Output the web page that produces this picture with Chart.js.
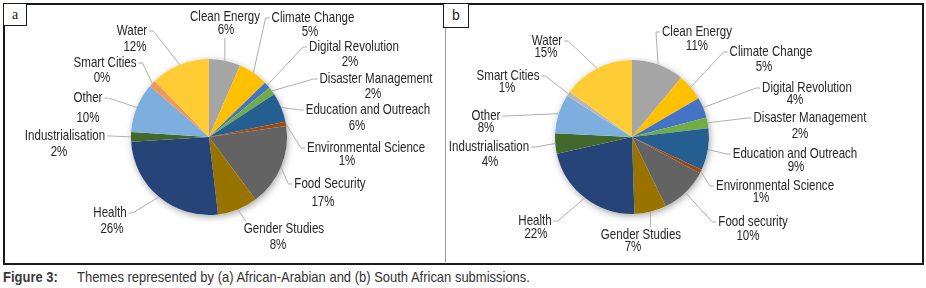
<!DOCTYPE html>
<html>
<head>
<meta charset="utf-8">
<script src="https://cdn.jsdelivr.net/npm/chart.js@4"></script>
<style>
  body { margin: 0; background: #fff; width: 926px; height: 288px; position: relative; overflow: hidden; }
  canvas { position: absolute; top: 0; }
  #chartA { left: 0; }
  #chartB { left: 445px; }
  .frame { position: absolute; left: 3px; top: 3px; width: 917px; height: 258px; border: 2px solid #1a1a1a; }
  .divider { position: absolute; left: 445px; top: 26px; width: 1px; height: 236px; background: #9a9a9a; }
  .tag { position: absolute; top: 3px; height: 21px; border: 1.5px solid #1a1a1a; background: #fff; text-align: center; line-height: 21px; font-size: 14px; color: #222; }
  #tagA { left: 3px; width: 22px; font-family: "Liberation Serif", serif; }
  #tagB { left: 443px; width: 24px; height: 23px; line-height: 23px; font-family: "Liberation Sans", sans-serif; }
  .caption { position: absolute; top: 268px; font-family: "Liberation Sans", sans-serif; font-size: 15px; color: #333;
             white-space: nowrap; transform: scaleX(0.865); transform-origin: 0 0; }
</style>
</head>
<body>
<canvas id="chartA" width="445" height="263"></canvas>
<canvas id="chartB" width="481" height="263"></canvas>
<div class="frame"></div>
<div class="divider"></div>
<div class="tag" id="tagA">a</div>
<div class="tag" id="tagB">b</div>
<div class="caption" style="left:3px;font-weight:bold;color:#3a3a3a;">Figure 3:</div>
<div class="caption" style="left:77px;">Themes represented by (a) African-Arabian and (b) South African submissions.</div>
<script>
// themes, in the order the slices run clockwise from 12 o'clock
const themesA = ['Clean Energy', 'Climate Change', 'Digital Revolution', 'Disaster Management',
  'Education and Outreach', 'Environmental Science', 'Food Security', 'Gender Studies',
  'Health', 'Industrialisation', 'Other', 'Smart Cities', 'Water'];
const themesB = ['Clean Energy', 'Climate Change', 'Digital Revolution', 'Disaster Management',
  'Education and Outreach', 'Environmental Science', 'Food security', 'Gender Studies',
  'Health', 'Industrialisation', 'Other', 'Smart Cities', 'Water'];

// slice shares (%)
const sharesA = [6.5, 6.2, 1.4, 1.6, 6.1, 0.9, 17, 8.3, 25.8, 2, 10.3, 1.4, 12.2];
const sharesB = [11, 5.6, 4.3, 2.3, 8.8, 0.8, 10, 6.7, 22, 4.3, 8.2, 1, 15];

// percentages printed on the labels
const pctA = ['6%', '5%', '2%', '2%', '6%', '1%', '17%', '8%', '26%', '2%', '10%', '0%', '12%'];
const pctB = ['11%', '5%', '4%', '2%', '9%', '1%', '10%', '7%', '22%', '4%', '8%', '1%', '15%'];

const colorsA = ['#a5a5a5', '#ffc000', '#4472c4', '#70ad47', '#255e91', '#9e480e', '#636363',
  '#997300', '#264478', '#43682b', '#7cafdd', '#f1975a', '#ffcd33'];
const colorsB = ['#a5a5a5', '#ffc000', '#4472c4', '#70ad47', '#255e91', '#9e480e', '#636363',
  '#997300', '#264478', '#43682b', '#7cafdd', '#b7b7b7', '#ffcd33'];

// label placement: [line1 x, line1 y, line2 x, line2 y] and side the leader line attaches to
const placeA = [[225,17,226,30], [313,18,310,32], [354,47,350,62], [376,79,373,94],
  [368,110,357,126], [366,148,347,161], [330,184,323,202], [284,229,278,245],
  [110,213,112,229], [65,136,59,152], [88,98,88,118], [105,63,102,78], [132,31,135,47]];
const sidesA = ['b','l','l','l','l','l','l','t','r','r','r','r','r'];
const placeB = [[252,32,252,46], [326,52,319,67], [362,88,350,100], [365,118,355,134],
  [350,154,351,167], [330,186,316,198], [308,222,303,236], [196,235,188,247],
  [90,221,91,234], [44,147,45,162], [41,116,41,128], [63,76,62,88], [102,41,101,53]];
const sidesB = ['l','l','l','l','l','l','l','t','r','r','r','r','r'];

const FONT = '15px "Liberation Sans", Arial, sans-serif';
const SX = 0.77; // narrow the face to look like Arial Narrow

// soft shadow under the whole pie
const pieShadow = {
  id: 'pieShadow',
  beforeDatasetsDraw(chart) {
    const arc = chart.getDatasetMeta(0).data[0];
    if (!arc) return;
    const ctx = chart.ctx;
    ctx.save();
    ctx.shadowColor = 'rgba(0,0,0,0.35)';
    ctx.shadowBlur = 7;
    ctx.shadowOffsetX = 1;
    ctx.shadowOffsetY = 2;
    ctx.fillStyle = '#ffffff';
    ctx.beginPath();
    ctx.arc(arc.x, arc.y, arc.outerRadius, 0, Math.PI * 2);
    ctx.fill();
    ctx.restore();
  }
};

function narrowText(ctx, text, x, y) {
  ctx.save();
  ctx.translate(x, y);
  ctx.scale(SX, 1);
  ctx.fillText(text, 0, 0);
  ctx.restore();
}

// data labels with leader lines
const leaderLabels = {
  id: 'leaderLabels',
  afterDatasetsDraw(chart, args, opts) {
    const ctx = chart.ctx;
    const meta = chart.getDatasetMeta(0);
    ctx.save();
    ctx.font = FONT;
    ctx.textAlign = 'center';
    ctx.textBaseline = 'middle';
    meta.data.forEach((arc, i) => {
      const mid = (arc.startAngle + arc.endAngle) / 2;
      const ex = arc.x + Math.cos(mid) * arc.outerRadius;
      const ey = arc.y + Math.sin(mid) * arc.outerRadius;
      const [x1, y1, x2, y2] = opts.place[i];
      const name = chart.data.labels[i];
      const pct = opts.pct[i];
      const w1 = ctx.measureText(name).width * SX;
      const w2 = ctx.measureText(pct).width * SX;
      const left = Math.min(x1 - w1 / 2, x2 - w2 / 2);
      const right = Math.max(x1 + w1 / 2, x2 + w2 / 2);
      const top = y1 - 8, bottom = y2 + 8;
      const side = opts.sides[i];
      ctx.strokeStyle = '#aeaeae';
      ctx.lineWidth = 1;
      ctx.beginPath();
      ctx.moveTo(ex, ey);
      if (side === 'l') {
        ctx.lineTo(left - 6, y1);
        ctx.lineTo(left - 2, y1);
      } else if (side === 'r') {
        ctx.lineTo(right + 6, y1);
        ctx.lineTo(right + 2, y1);
      } else if (side === 'b') {
        const ax = Math.min(Math.max(ex, left + 2), right - 2);
        ctx.lineTo(ax, bottom);
      } else {
        const ax = Math.min(Math.max(ex, left + 2), right - 2);
        ctx.lineTo(ax, top);
      }
      ctx.stroke();
      ctx.fillStyle = '#262626';
      narrowText(ctx, name, x1, y1);
      narrowText(ctx, pct, x2, y2);
    });
    ctx.restore();
  }
};

function makePie(id, labels, shares, colors, pct, place, sides, padding) {
  return new Chart(document.getElementById(id), {
    type: 'pie',
    data: {
      labels: labels,
      datasets: [{
        data: shares,
        backgroundColor: colors,
        borderWidth: 0
      }]
    },
    options: {
      responsive: false,
      animation: false,
      layout: { padding: padding },
      plugins: {
        legend: { display: false },
        tooltip: { enabled: false },
        leaderLabels: { pct: pct, place: place, sides: sides }
      }
    },
    plugins: [pieShadow, leaderLabels]
  });
}

makePie('chartA', themesA, sharesA, colorsA, pctA, placeA, sidesA,
  { left: 131, right: 158, top: 59, bottom: 48 });
makePie('chartB', themesB, sharesB, colorsB, pctB, placeB, sidesB,
  { left: 110, right: 217, top: 60, bottom: 49 });
</script>
</body>
</html>
